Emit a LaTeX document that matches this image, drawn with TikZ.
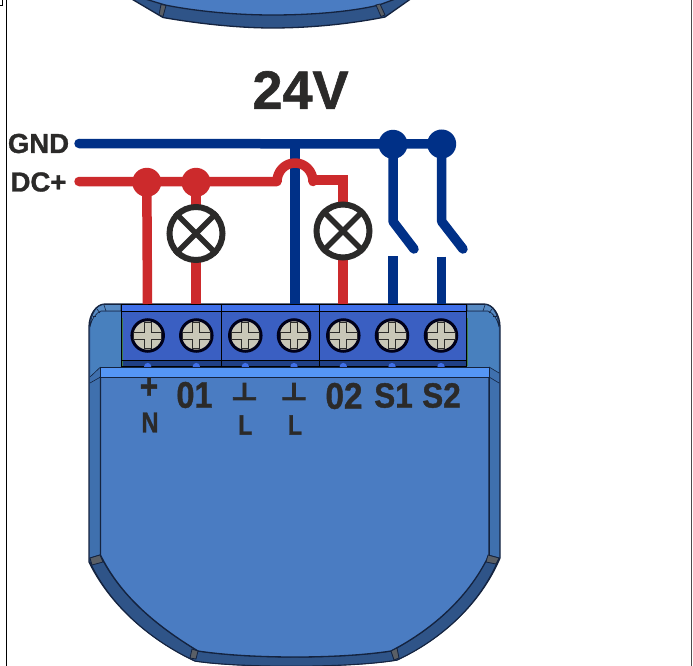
\documentclass[tikz,border=0pt]{standalone}
\usepackage{fontspec}
\setmainfont[BoldFeatures={FakeBold=1.1}]{Liberation Sans}
\newfontfamily\symfont[BoldFont={DejaVu Sans Bold},BoldFeatures={FakeBold=2.5}]{DejaVu Sans}
\definecolor{txt}{HTML}{2B2A29}
\definecolor{wblue}{HTML}{003087}
\definecolor{wred}{HTML}{CC2A2C}
\definecolor{panel}{HTML}{4A7CC2}
\definecolor{shoulder}{HTML}{4880BE}
\definecolor{side}{HTML}{3F70AE}
\definecolor{rim}{HTML}{2F5488}
\definecolor{edge}{HTML}{14233F}
\definecolor{strip}{HTML}{5596F5}
\definecolor{blockhi}{HTML}{3F6FE8}
\definecolor{block}{HTML}{3A5FC2}
\definecolor{blockdk}{HTML}{1F3F85}
\definecolor{grn}{HTML}{3F7F4A}
\definecolor{screw}{HTML}{C9C7B8}
\definecolor{gquad}{HTML}{5A5F66}
\tikzset{
  x=1pt,y=-1pt,
  bluewire/.style={draw=wblue,line width=9.5pt,line cap=round,line join=round},
  bluestub/.style={draw=wblue,line width=9.5pt},
  redwire/.style={draw=wred,line width=9.5pt,line cap=round,line join=round},
  redstub/.style={draw=wred,line width=9.5pt},
  bluedot/.style={circle,fill=wblue,minimum size=29pt,inner sep=0pt},
  reddot/.style={circle,fill=wred,minimum size=29pt,inner sep=0pt},
  lamp/.style={circle,draw=txt,fill=white,line width=6pt,minimum size=53pt,inner sep=0pt},
  lampx/.style={draw=txt,line width=5.5pt},
  screwhead/.style={circle,draw=black!90!blue,fill=screw,line width=3pt,minimum size=31.5pt,inner sep=0pt},
  cross/.style={draw=txt,line width=.7pt,fill=screw},
  lbl/.style={text=txt,inner sep=0pt,font=\bfseries},
  rimline/.style={draw=edge,line width=1.3pt},
  gq/.style={fill=gquad,draw=edge,line width=.8pt},
  ridge/.style={draw=edge,line width=.6pt},
}
\begin{document}
\begin{tikzpicture}
\useasboundingbox (0,0) rectangle (693,666);
\fill[white] (0,0) rectangle (693,666);
\begin{scope}
\clip (0,0) rectangle (693,666);
% frame
\draw[black,line width=1.5pt] (6.5,0) -- (6.5,666);
\draw[black!70,line width=1.5pt] (691.5,0) -- (691.5,666);
\draw[black,line width=1pt] (0,5.5) -- (2.8,5.5) -- (2.8,0);
% upper device
\path[fill=rim,rimline] (130,-2) -- (163,17.5) .. controls (200,24) and (240,28) .. (272,28) .. controls (310,28) and (350,24) .. (385,17) -- (412,-2) -- cycle;
\path[fill=panel,rimline] (142,-2) -- (165,5) .. controls (200,12) and (240,15) .. (272,15) .. controls (310,15) and (350,12) .. (379,5) -- (398,-2) -- cycle;
\path[gq] (161,4.5) -- (166,5.5) -- (163,16.5) -- (159,15) -- cycle;
\path[gq] (376,5) -- (380,4) -- (385,15) -- (381,16.5) -- cycle;
% lower device: shell
\path[fill=side,rimline] (105,304) -- (484,304) .. controls (493,304) and (500,315) .. (500,327)
  -- (500,558) .. controls (480,605) and (440,640) .. (397,660) .. controls (350,668) and (240,668) .. (195,661) .. controls (150,640) and (110,605) .. (89,562)
  -- (89,327) .. controls (89,315) and (96,304) .. (105,304) -- cycle;
% bottom rim
\path[fill=rim,draw=edge,line width=.9pt] (90,558) -- (100,555) .. controls (120,595) and (155,625) .. (198,651) .. controls (250,659) and (340,659) .. (391,651) .. controls (435,628) and (470,595) .. (488,555) -- (499,558) .. controls (480,605) and (440,640) .. (397,660) .. controls (350,668) and (240,668) .. (195,661) .. controls (150,640) and (110,605) .. (90,562) -- cycle;
% front panel
\path[fill=panel,rimline] (100.5,377) -- (489,377) -- (489,555) .. controls (470,595) and (435,628) .. (391,651) .. controls (340,659) and (250,659) .. (198,651) .. controls (155,625) and (120,595) .. (100.5,555) -- cycle;
\path[gq] (90,558) -- (100,555) -- (103,562) -- (92,565) -- cycle;
\path[gq] (488,555) -- (499,558) -- (496,564) -- (486,562) -- cycle;
\path[gq] (192,649) -- (198,651) -- (196,659) -- (190,658) -- cycle;
\path[gq] (391,651) -- (397,648) -- (399,658) -- (394,660) -- cycle;
% shoulders below the ridged band
\path[fill=shoulder] (90.5,327) .. controls (92,318) and (96,313) .. (101,312) -- (121,312) -- (121,367) -- (100.5,367) -- (90.5,377) -- cycle;
\path[fill=shoulder] (498.5,327) .. controls (497,318) and (493,313) .. (488,312) -- (467,312) -- (467,367) -- (489,367) -- (498.5,373) -- cycle;
% ridged band
\path[fill=shoulder!92!white,ridge] (121,304.5) -- (105,304.5) .. controls (96,304.5) and (91,314) .. (90,327) .. controls (92,318) and (96,313) .. (101,311) -- (121,311) -- cycle;
\path[fill=shoulder!92!white,ridge] (467,304.5) -- (484,304.5) .. controls (493,304.5) and (498,314) .. (499,327) .. controls (497,318) and (493,313) .. (488,311) -- (467,311) -- cycle;
\draw[ridge] (104,305) -- (106,311);
\draw[ridge] (97,309) -- (100,313);
\draw[ridge] (92.5,316) -- (96,316);
\draw[ridge] (485,305) -- (483,311);
\draw[ridge] (492,309) -- (489,313);
\draw[ridge] (496.5,316) -- (493,316);
\draw[ridge] (100.5,367) -- (90,377);
\draw[ridge] (100.5,377) -- (90,383);
\draw[ridge] (489,367) -- (499,373);
\draw[ridge] (489,377) -- (499,383);
% front panel top strip
\path[fill=strip,draw=edge,line width=1pt] (100.5,367) -- (489,367) -- (489,377) -- (100.5,377) -- cycle;
\draw[edge,line width=1pt] (100.5,367) -- (100.5,555);
\draw[edge,line width=1pt] (489,367) -- (489,555);
% terminal block
\fill[blockdk] (121,360) rectangle (467,367);
\fill[block] (121,311.5) rectangle (467,360.5);
\fill[blockhi] (122,304) rectangle (466,311.5);
\fill[grn] (121,318) rectangle (123,366);
\fill[grn] (465.5,318) rectangle (467.5,366);
\draw[black,line width=1pt] (121,304) -- (467,304);
\draw[black,line width=1pt] (122,311.5) -- (466,311.5);
\draw[black,line width=.8pt] (122,360.5) -- (466,360.5);
\draw[black,line width=1.2pt] (121,366.7) -- (467,366.7);
\draw[black,line width=1pt] (121.5,304) -- (121.5,367);
\draw[black,line width=1pt] (466.5,304) -- (466.5,367);
\draw[black,line width=1pt] (221.3,304) -- (221.3,366);
\draw[black,line width=1pt] (319,304) -- (319,366);
% wires
\coordinate (gndstart) at (79,143.5);
\coordinate (dcstart) at (79,181.5);
\node[bluedot] (sw1) at (393,144.3) {};
\node[bluedot] (sw2) at (441.7,144) {};
\coordinate (sw1k) at (393,221.5);
\coordinate (sw2k) at (441.7,221.5);
\coordinate (sw1e) at (414,249);
\coordinate (sw2e) at (463,249);
\coordinate (st1t) at (393,256);
\coordinate (st1b) at (393,304);
\coordinate (st2t) at (441.7,256.5);
\coordinate (st2b) at (441.7,304);
\coordinate (tapt) at (295,143.5);
\coordinate (tapb) at (295,304);
\coordinate (hopa) at (277,181.5);
\coordinate (hopb) at (313,180);
\coordinate (redc) at (343,180);
\coordinate (redb) at (343,304);
\node[reddot] (rd1) at (146.8,182.3) {};
\node[reddot] (rd2) at (196,182.3) {};
\coordinate (r1b) at (147.5,304);
\coordinate (r2b) at (196,304);
\path[bluewire] (gndstart) -- (sw2.center);
\path[bluestub] (tapt) -- (tapb);
\path[bluewire] (sw1.center) -- (sw1k) -- (sw1e);
\path[bluewire] (sw2.center) -- (sw2k) -- (sw2e);
\path[bluestub] (st1t) -- (st1b);
\path[bluestub] (st2t) -- (st2b);
\path[redstub] (rd1.center) -- (r1b);
\path[redstub] (rd2.center) -- (r2b);
\path[redwire] (dcstart) -- (hopa) arc[start angle=180,end angle=0,x radius=18,y radius=-18.5];
\path[redwire] (hopb) -- (redc);
\path[redstub] (redc) -- (redb);
\fill[wred] (338.25,175.25) rectangle (347.75,185);
% lamps
\node[lamp] (lamp1) at (196,233.5) {};
\node[lamp] (lamp2) at (343,231) {};
\draw[lampx] (lamp1.45) -- (lamp1.225);
\draw[lampx] (lamp1.135) -- (lamp1.315);
\draw[lampx] (lamp2.45) -- (lamp2.225);
\draw[lampx] (lamp2.135) -- (lamp2.315);
% screws
\foreach \n/\cx in {1/147.7,2/196.3,3/245.3,4/294,5/343.3,6/392,7/441}{
  \begin{scope}
    \clip (\cx-5,360.5) rectangle (\cx+5,366.3);
    \fill[blockhi] (\cx,366.5) circle (3.6);
  \end{scope}
  \node[screwhead] (t\n) at (\cx,335.5) {};
  \path[cross] (\cx-3.5,322.5) -- (\cx+3.5,322.5) -- (\cx+3.5,332) -- (\cx+14,332) -- (\cx+14,339) -- (\cx+3.5,339) -- (\cx+3.5,348.5) -- (\cx-3.5,348.5) -- (\cx-3.5,339) -- (\cx-14,339) -- (\cx-14,332) -- (\cx-3.5,332) -- cycle;
}
% labels
\node[lbl,font=\bfseries\fontsize{54}{54}\selectfont] (title) at (300.5,90) {24V};
\node[lbl,font=\bfseries\fontsize{27.5}{28}\selectfont] (gnd) at (38.5,143.5) {GND};
\node[lbl,font=\bfseries\fontsize{27.5}{28}\selectfont] (dc) at (38.5,182) {DC+};
\node[lbl,font=\bfseries\fontsize{36}{36}\selectfont,xscale=.88,transform shape] (lplus) at (149,388) {+};
\node[lbl,font=\bfseries\fontsize{29}{29}\selectfont,xscale=.82,transform shape] (ln) at (150,422.5) {N};
\node[lbl,font=\bfseries\fontsize{37}{37}\selectfont,xscale=.88,transform shape] (l01) at (194.5,395) {01};
\node[lbl,font=\symfont\bfseries\fontsize{30}{30}\selectfont,yscale=.8,transform shape] (g1) at (244.5,391.5) {⊥};
\node[lbl,font=\symfont\bfseries\fontsize{30}{30}\selectfont,yscale=.8,transform shape] (g2) at (294,391.5) {⊥};
\node[lbl,font=\bfseries\fontsize{28}{28}\selectfont,xscale=.82,transform shape] (l1) at (245.3,425) {L};
\node[lbl,font=\bfseries\fontsize{28}{28}\selectfont,xscale=.82,transform shape] (l2) at (295,425) {L};
\node[lbl,font=\bfseries\fontsize{37}{37}\selectfont,xscale=.9,transform shape] (l02) at (344,396) {02};
\node[lbl,font=\bfseries\fontsize{35}{35}\selectfont,xscale=.9,transform shape] (s1) at (393.5,395.5) {S1};
\node[lbl,font=\bfseries\fontsize{35}{35}\selectfont,xscale=.9,transform shape] (s2) at (441.5,395.5) {S2};
\end{scope}
\end{tikzpicture}
\end{document}
